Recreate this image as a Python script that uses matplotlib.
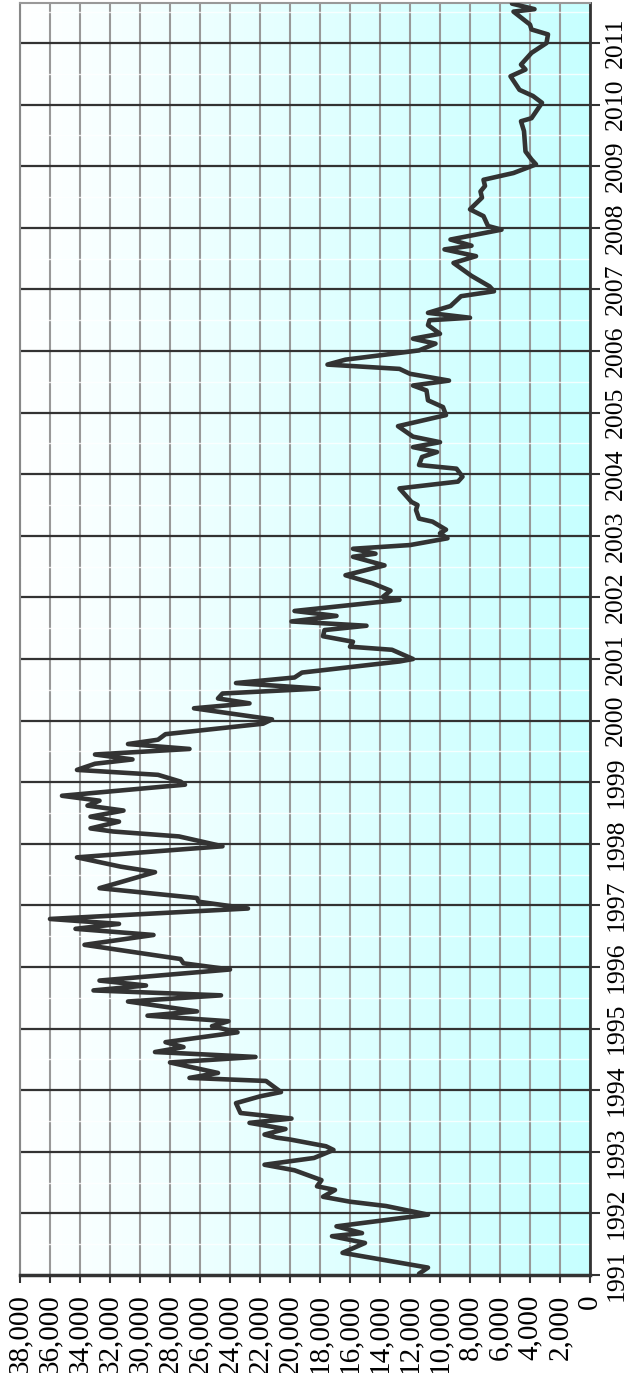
import numpy as np
import matplotlib.pyplot as plt
from matplotlib import font_manager as fm

# pick a Times-like serif font file if one is installed
serif_file = None
for f in fm.findSystemFonts():
    name = f.split('/')[-1].lower()
    if name in ('liberationserif-regular.ttf', 'times.ttf', 'timesnewroman.ttf'):
        serif_file = f
        break
if serif_file:
    fm.fontManager.addfont(serif_file)
    fam = fm.FontProperties(fname=serif_file).get_name()
else:
    fam = 'DejaVu Serif'
plt.rcParams['font.family'] = [fam, 'DejaVu Serif']

# time (fractional year) and value of each vertex of the line
t = [1991.02, 1991.12, 1991.36, 1991.52, 1991.63, 1991.68, 1991.79, 1991.98,
     1992.12, 1992.19, 1992.27, 1992.38, 1992.44, 1992.54, 1992.70, 1992.79, 1992.90,
     1993.03, 1993.09, 1993.20, 1993.23, 1993.28, 1993.37, 1993.47, 1993.54, 1993.63,
     1993.79, 1993.90, 1993.97,
     1994.15, 1994.20, 1994.28, 1994.45, 1994.54, 1994.62, 1994.70, 1994.78, 1994.94,
     1995.04, 1995.12, 1995.21, 1995.28, 1995.44, 1995.54, 1995.62, 1995.70, 1995.78, 1995.96,
     1996.06, 1996.13, 1996.36, 1996.52, 1996.62, 1996.70, 1996.78, 1996.95,
     1997.06, 1997.12, 1997.28, 1997.37, 1997.54, 1997.63, 1997.78, 1997.96,
     1998.12, 1998.20, 1998.25, 1998.36, 1998.44, 1998.54, 1998.62, 1998.70, 1998.78, 1998.96,
     1999.01, 1999.12, 1999.20, 1999.30, 1999.37, 1999.45, 1999.54, 1999.62, 1999.69, 1999.78, 1999.95,
     2000.02, 2000.20, 2000.28, 2000.36, 2000.44, 2000.52, 2000.61, 2000.70, 2000.78, 2000.96,
     2001.00, 2001.15, 2001.20, 2001.28, 2001.37, 2001.47, 2001.54, 2001.61, 2001.70, 2001.78, 2001.96,
     2002.01, 2002.11, 2002.23, 2002.36, 2002.52, 2002.66, 2002.71, 2002.79, 2002.85, 2002.96,
     2003.04, 2003.10, 2003.23, 2003.28, 2003.42, 2003.50, 2003.55, 2003.77, 2003.88, 2003.96,
     2004.09, 2004.15, 2004.28, 2004.36, 2004.44, 2004.52, 2004.61, 2004.78, 2004.96,
     2005.09, 2005.20, 2005.36, 2005.44, 2005.52, 2005.63, 2005.71, 2005.78, 2005.86, 2005.93,
     2006.01, 2006.12, 2006.20, 2006.28, 2006.42, 2006.50, 2006.54, 2006.62, 2006.73, 2006.89, 2006.97,
     2007.05, 2007.22, 2007.43, 2007.54, 2007.65, 2007.71, 2007.81, 2007.97,
     2008.03, 2008.19, 2008.30, 2008.49, 2008.59, 2008.68, 2008.78, 2008.89,
     2009.03, 2009.11, 2009.24, 2009.57, 2009.73, 2009.78,
     2010.03, 2010.14, 2010.24, 2010.46, 2010.57, 2010.65, 2010.84,
     2011.00, 2011.14, 2011.22, 2011.30, 2011.51, 2011.55, 2011.64]
v = [11400, 10800, 16500, 15000, 17200, 15200, 16900, 10800,
     13600, 16000, 17800, 17000, 18200, 17900, 19700, 21700, 18400,
     17100, 17600, 20000, 20900, 21700, 20300, 22700, 19900, 23300,
     23600, 22000, 20600,
     21600, 26700, 24800, 28000, 22300, 29000, 27100, 28300, 23500,
     25200, 24100, 29500, 26200, 30800, 24600, 33100, 29600, 32700, 24000,
     27100, 27300, 33700, 29100, 34300, 31400, 36000, 22800,
     26100, 26200, 32700, 31400, 29000, 31300, 34200, 24500,
     27400, 31800, 33300, 31400, 33300, 31100, 33500, 32700, 35200, 27000,
     27300, 28800, 34200, 33000, 30500, 33000, 26700, 30800, 28800, 28300, 21800,
     21200, 26400, 22700, 24800, 24500, 18100, 23600, 19700, 19200, 12700,
     11800, 13200, 16000, 15800, 17800, 17700, 14900, 19900, 16900, 19700, 12700,
     13800, 13300, 14500, 16300, 13700, 15800, 14300, 15800, 12000, 9500,
     10000, 9600, 10500, 11400, 11600, 11500, 11900, 12700, 8800, 8500,
     8900, 11400, 11200, 10200, 11800, 10000, 11800, 12800, 9600,
     9800, 10800, 10900, 11800, 9400, 12000, 12700, 17500, 16300, 14000,
     11400, 10300, 11800, 10000, 10800, 10700, 8000, 10800, 9300, 8600, 6400,
     6700, 7900, 9100, 7600, 9700, 7900, 9300, 5900,
     6800, 7100, 8000, 7200, 7300, 7000, 7100, 5100,
     3600, 3900, 4300, 4400, 4600, 3900,
     3200, 3800, 4700, 5300, 4300, 4600, 3900,
     2900, 2800, 3900, 4000, 5100, 3700, 5200]

years = list(range(1991, 2012))
val_ticks = list(range(0, 38001, 2000))
val_labels = ['{:,}'.format(x) for x in val_ticks]

fig = plt.figure(figsize=(6.3, 13.73), dpi=100)
ax = fig.add_axes([20 / 630, 98 / 1373, 570 / 630, 1272 / 1373])

# background gradient, white on the left to pale cyan on the right
grad = np.linspace(0, 1, 256)
img = np.ones((1, 256, 3))
img[0, :, 0] = 1 - 0.22 * grad
ax.imshow(img, extent=(0, 1, 0, 1), transform=ax.transAxes, aspect='auto', zorder=0)

ax.plot(v, t, color='#333333', lw=3.3, solid_joinstyle='round',
        solid_capstyle='round', zorder=5)

ax.set_xlim(38000, 0)
ax.set_ylim(1991, 2011.65)

for x in val_ticks:
    ax.axvline(x, color='#999999', lw=1.5, zorder=1)
for y in years[1:]:
    ax.axhline(y, color='#333333', lw=1.6, zorder=2)
for y in years:
    ax.axhline(y + 0.5, color='white', lw=1, alpha=0.8, zorder=1)

ax.set_xticks(val_ticks)
ax.set_xticklabels(val_labels, family=[fam, 'DejaVu Serif'])
ax.set_yticks(years)
ax.set_yticklabels([str(y) for y in years], family=[fam, 'DejaVu Serif'])
ax.yaxis.tick_right()

ax.tick_params(axis='x', bottom=True, top=False, direction='out', length=6, width=1.5,
               color='#333333', labelrotation=90, labelsize=21, pad=8)
ax.tick_params(axis='y', right=True, left=False, direction='out', length=7, width=1.5,
               color='#333333', labelrotation=90, labelsize=18.5, pad=4)
for lab in ax.get_yticklabels():
    lab.set_verticalalignment('center')

ax.spines['bottom'].set_color('#333333')
ax.spines['bottom'].set_linewidth(2.5)
ax.spines['right'].set_color('#333333')
ax.spines['right'].set_linewidth(2)
ax.spines['left'].set_color('#888888')
ax.spines['left'].set_linewidth(1.5)
ax.spines['top'].set_color('#999999')
ax.spines['top'].set_linewidth(1.5)

fig.savefig('out.png', dpi=100)
